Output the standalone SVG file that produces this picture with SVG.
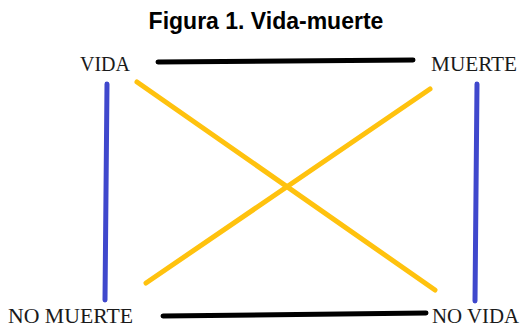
<svg xmlns="http://www.w3.org/2000/svg" width="523" height="327" viewBox="0 0 523 327">
<style>
.t{font-family:"Liberation Sans",Arial,sans-serif;font-weight:bold;font-size:23px;fill:#000}
.l{font-family:"Liberation Serif","Times New Roman",serif;font-size:20px;fill:#1a1a1a}
.k{stroke:#000;stroke-width:5;stroke-linecap:round;fill:none}
.b{stroke:#3f48cc;stroke-width:5;stroke-linecap:round;fill:none}
.y{stroke:#ffc20e;stroke-width:5;stroke-linecap:round;fill:none}
</style>
<rect width="523" height="327" fill="#fff"/>
<text class="t" x="266" y="29" text-anchor="middle">Figura 1. Vida-muerte</text>
<g id="connectors">
<line class="k" x1="158" y1="62" x2="413" y2="60"/>
<line class="k" x1="163" y1="316" x2="426" y2="313"/>
<line class="b" x1="107" y1="84" x2="105" y2="300"/>
<line class="b" x1="477" y1="84" x2="475" y2="301"/>
<line class="y" x1="137" y1="82" x2="435" y2="290"/>
<line class="y" x1="430" y1="89" x2="146" y2="283"/>
</g>
<g id="vida"><text class="l" x="80" y="71">VIDA</text></g>
<g id="muerte"><text class="l" x="431" y="71" textLength="86" lengthAdjust="spacingAndGlyphs">MUERTE</text></g>
<g id="no-muerte"><text class="l" x="8" y="323" textLength="125" lengthAdjust="spacingAndGlyphs">NO MUERTE</text></g>
<g id="no-vida"><text class="l" x="432" y="323" textLength="87" lengthAdjust="spacingAndGlyphs">NO VIDA</text></g>
</svg>
